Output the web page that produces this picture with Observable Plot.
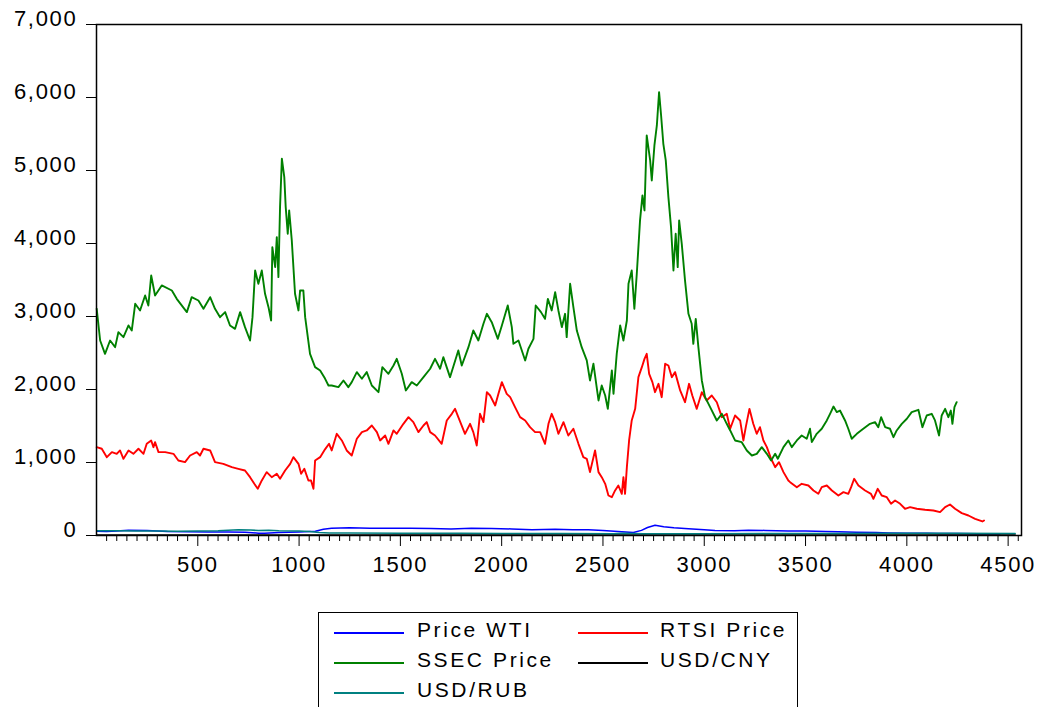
<!DOCTYPE html>
<html>
<head>
<meta charset="utf-8">
<script src="https://cdn.jsdelivr.net/npm/d3@7"></script>
<script src="https://cdn.jsdelivr.net/npm/@observablehq/plot@0.6"></script>
<style>
  html, body { margin: 0; padding: 0; background: #fff; }
  #wrap { position: relative; width: 1038px; height: 707px; overflow: hidden; font-family: "Liberation Sans", Arial, sans-serif; }
  #chart svg text { letter-spacing: 1.7px; }
  #legend { position: absolute; left: 318px; top: 612px; width: 480px; height: 130px; border: 1px solid #000; box-sizing: border-box; }
  .sw { position: absolute; width: 70px; height: 0; border-top: 2px solid; }
  .lb { position: absolute; font-size: 21px; line-height: 21px; letter-spacing: 2.6px; white-space: nowrap; color: #000; }
</style>
</head>
<body>
<div id="wrap">
  <div id="chart"></div>
  <div id="legend"></div>
</div>
<script>
const seriesNames = ["Price WTI", "RTSI Price", "SSEC Price", "USD/CNY", "USD/RUB"];
const seriesColors = ["#0000ff", "#ff0000", "#008000", "#000000", "#008080"];

const ssec = [[1,3106],[18,2671],[42,2489],[67,2671],[92,2580],[108,2785],[133,2717],[158,2877],[174,2808],[191,3174],[215,3082],[240,3288],[256,3151],[270,3562],[289,3288],[322,3425],[372,3356],[396,3242],[446,3060],[470,3265],[503,3219],[528,3106],[561,3265],[585,3106],[610,2991],[635,3060],[659,2877],[684,2831],[709,3060],[733,2854],[758,2671],[770,2991],[783,3630],[799,3448],[816,3630],[832,3311],[849,3128],[862,2945],[868,3950],[882,3676],[890,4087],[898,3539],[906,4498],[915,5161],[927,4909],[934,4498],[944,4133],[951,4453],[964,4042],[980,3311],[997,3083],[1005,3357],[1021,3357],[1030,2991],[1054,2489],[1079,2306],[1104,2261],[1128,2150],[1145,2055],[1161,2055],[1194,2032],[1219,2124],[1243,2032],[1260,2101],[1285,2238],[1310,2147],[1334,2238],[1359,2055],[1392,1963],[1411,2306],[1441,2215],[1466,2329],[1482,2420],[1507,2215],[1527,1987],[1556,2101],[1581,2055],[1614,2169],[1647,2284],[1671,2420],[1696,2284],[1712,2443],[1745,2169],[1786,2535],[1803,2329],[1836,2580],[1860,2808],[1885,2671],[1910,2900],[1927,3037],[1951,2922],[1981,2694],[2001,2877],[2030,3151],[2050,2854],[2058,2626],[2083,2671],[2116,2398],[2132,2558],[2157,2694],[2168,3151],[2194,3060],[2214,2968],[2228,3242],[2247,3083],[2264,3333],[2280,3083],[2297,2854],[2313,3037],[2321,2717],[2338,3448],[2354,3128],[2371,2808],[2395,2580],[2420,2398],[2436,2124],[2453,2352],[2478,1850],[2494,2055],[2511,1918],[2524,1735],[2544,2261],[2552,1941],[2568,2489],[2585,2877],[2601,2671],[2618,2945],[2626,3448],[2642,3630],[2655,3106],[2667,3585],[2683,4316],[2695,4658],[2705,4453],[2716,5480],[2733,5138],[2741,4864],[2754,5343],[2766,5617],[2777,6074],[2787,5754],[2798,5366],[2810,5138],[2823,4635],[2836,4224],[2848,3630],[2859,4133],[2869,3676],[2876,4316],[2889,3996],[2905,3494],[2922,3037],[2938,2900],[2946,2626],[2958,2968],[2971,2580],[2988,2124],[3004,1895],[3029,1758],[3062,1576],[3087,1667],[3111,1530],[3128,1439],[3152,1302],[3185,1279],[3210,1165],[3235,1096],[3259,1119],[3284,1210],[3309,1119],[3330,1028],[3350,1119],[3363,1051],[3391,1210],[3415,1302],[3432,1210],[3457,1302],[3481,1370],[3506,1325],[3522,1462],[3531,1279],[3555,1393],[3580,1462],[3605,1576],[3621,1667],[3638,1767],[3654,1690],[3670,1712],[3695,1576],[3711,1462],[3728,1325],[3753,1393],[3785,1462],[3818,1530],[3843,1553],[3859,1484],[3873,1621],[3893,1484],[3917,1462],[3934,1347],[3950,1439],[3975,1530],[4000,1599],[4024,1690],[4057,1722],[4077,1484],[4098,1644],[4123,1667],[4139,1576],[4159,1370],[4172,1644],[4189,1735],[4205,1621],[4217,1712],[4225,1530],[4235,1758],[4246,1826]];

const rtsi = [[1,1210],[26,1188],[51,1073],[76,1142],[100,1119],[116,1165],[133,1051],[158,1165],[182,1119],[207,1188],[232,1119],[248,1256],[270,1302],[281,1210],[289,1279],[306,1142],[339,1142],[380,1119],[404,1028],[437,1005],[462,1096],[495,1142],[511,1096],[528,1188],[561,1165],[585,1005],[626,982],[668,936],[700,913],[733,891],[758,799],[779,708],[796,640],[816,754],[840,868],[865,799],[890,845],[906,777],[931,891],[956,982],[972,1073],[997,982],[1010,845],[1026,913],[1046,754],[1059,754],[1071,640],[1079,1028],[1104,1073],[1128,1180],[1148,1256],[1161,1165],[1186,1393],[1211,1302],[1235,1165],[1260,1096],[1285,1325],[1310,1416],[1334,1439],[1359,1507],[1384,1416],[1400,1302],[1425,1370],[1441,1256],[1466,1439],[1482,1393],[1515,1530],[1540,1621],[1564,1553],[1589,1416],[1614,1507],[1630,1553],[1647,1416],[1671,1370],[1704,1256],[1729,1576],[1754,1667],[1770,1735],[1786,1621],[1819,1393],[1844,1530],[1860,1416],[1877,1233],[1893,1667],[1910,1553],[1927,1963],[1943,1918],[1968,1781],[1984,1941],[2001,2101],[2025,1941],[2042,1895],[2066,1758],[2091,1621],[2116,1576],[2140,1484],[2165,1416],[2190,1416],[2214,1256],[2231,1530],[2247,1667],[2264,1553],[2280,1393],[2305,1553],[2329,1370],[2354,1462],[2379,1256],[2403,1073],[2420,1051],[2436,868],[2461,1165],[2478,868],[2494,799],[2511,708],[2527,548],[2544,525],[2560,617],[2576,685],[2593,571],[2601,799],[2609,571],[2618,936],[2629,1302],[2642,1576],[2659,1735],[2675,2169],[2692,2306],[2705,2420],[2716,2489],[2728,2215],[2744,2101],[2757,1963],[2774,2078],[2790,1895],[2807,2352],[2823,2329],[2840,2169],[2856,2238],[2881,1987],[2905,1826],[2925,2078],[2941,1918],[2963,1735],[2988,1963],[3012,1850],[3037,1918],[3062,1826],[3087,1621],[3111,1667],[3128,1462],[3152,1644],[3177,1576],[3193,1302],[3205,1484],[3223,1735],[3242,1530],[3259,1393],[3275,1484],[3292,1302],[3309,1210],[3330,1051],[3350,936],[3369,1005],[3391,868],[3415,754],[3424,731],[3457,662],[3481,708],[3514,685],[3539,617],[3563,571],[3580,662],[3605,685],[3630,617],[3662,548],[3687,594],[3711,571],[3725,662],[3740,777],[3761,685],[3794,617],[3823,571],[3835,503],[3856,640],[3876,548],[3901,525],[3922,434],[3942,480],[3967,434],[3991,366],[4016,388],[4049,366],[4090,352],[4131,343],[4164,320],[4189,388],[4213,425],[4238,366],[4271,306],[4304,274],[4337,229],[4373,192],[4381,206]];

const wti = [[1,58],[50,55],[100,62],[158,72],[250,68],[350,55],[450,50],[550,48],[650,47],[733,45],[800,32],[830,30],[900,40],[1000,48],[1080,58],[1120,85],[1160,100],[1250,105],[1350,98],[1450,100],[1550,100],[1650,95],[1750,90],[1850,100],[1950,95],[2050,90],[2150,80],[2264,86],[2350,80],[2428,78],[2500,70],[2593,50],[2650,40],[2690,70],[2720,110],[2757,140],[2800,120],[2850,105],[2922,92],[3000,80],[3053,68],[3150,65],[3218,72],[3300,70],[3415,62],[3500,60],[3600,55],[3662,50],[3750,45],[3850,40],[3909,35],[4000,32],[4100,30],[4156,28],[4250,27],[4350,25],[4460,25]];

const usdrub = [[1,65],[100,64],[200,62],[300,60],[400,58],[500,62],[600,65],[700,78],[760,75],[800,68],[850,72],[900,65],[1000,60],[1050,55],[1100,40],[1150,35],[1250,33],[1500,31],[1800,30],[2000,29],[2300,28],[2550,25],[2600,30],[2700,24],[3000,25],[3300,28],[3600,29],[3900,31],[4200,30],[4535,28]];

const usdcny = [[1,6.9],[500,6.7],[1000,6.3],[1300,6.1],[1500,6.2],[2000,6.5],[2500,6.8],[2800,7.2],[3000,7.6],[3200,8.0],[3400,8.28],[4535,8.28]];

const yTicks = [0, 1000, 2000, 3000, 4000, 5000, 6000, 7000];
const xMajorTicks = [500, 1000, 1500, 2000, 2500, 3000, 3500, 4000, 4500];
const xMinorTicks = d3.range(50, 4566, 50).filter(v => v % 500 !== 0);

// ---- Build table ----
const seriesData = [wti, rtsi, ssec, usdcny, usdrub];
const rows = seriesData.flatMap((s, i) => s.map(([x, y]) => ({x, y, name: seriesNames[i]})));

const chart = Plot.plot({
  width: 1038,
  height: 600,
  marginLeft: 96,
  marginRight: 17,
  marginTop: 24,
  marginBottom: 65,
  style: {fontFamily: "'Liberation Sans', Arial, sans-serif", fontSize: "22px", background: "white", color: "black", overflow: "visible"},
  x: {domain: [0, 4566], label: null},
  y: {domain: [0, 7000], label: null},
  color: {domain: seriesNames, range: seriesColors},
  marks: [
    Plot.line(rows.filter(d => d.name !== "SSEC Price" && d.name !== "RTSI Price"), {x: "x", y: "y", z: "name", stroke: "name", strokeWidth: 1.5}),
    Plot.line(rows.filter(d => d.name === "RTSI Price"), {x: "x", y: "y", stroke: "name", strokeWidth: 1.9}),
    Plot.line(rows.filter(d => d.name === "SSEC Price"), {x: "x", y: "y", stroke: "name", strokeWidth: 1.9}),
    Plot.frame({stroke: "black", strokeWidth: 1.5}),
    Plot.axisY({ticks: yTicks, tickFormat: () => "", tickSize: 10}),
    Plot.axisY({ticks: yTicks, tickFormat: d3.format(","), tickSize: 0, tickPadding: 19, dy: -6, fontSize: 22}),
    Plot.axisX({ticks: xMajorTicks, tickFormat: d => String(d), tickSize: 11, tickPadding: 10, fontSize: 22}),
    Plot.axisX({ticks: xMinorTicks, tickFormat: () => "", tickSize: 6})
  ]
});
document.getElementById("chart").appendChild(chart);

// ---- Legend ----
const legend = document.getElementById("legend");
const legendPos = [
  {line: [15, 19], text: [98, 6]},
  {line: [259, 19], text: [341, 6]},
  {line: [15, 49], text: [98, 36]},
  {line: [259, 49], text: [341, 36]},
  {line: [15, 79], text: [98, 66]}
];
seriesNames.forEach((n, i) => {
  const p = legendPos[i];
  const sw = document.createElement("div");
  sw.className = "sw";
  sw.style.left = p.line[0] + "px";
  sw.style.top = p.line[1] + "px";
  sw.style.borderTopColor = seriesColors[i];
  legend.appendChild(sw);
  const lb = document.createElement("div");
  lb.className = "lb";
  lb.style.left = p.text[0] + "px";
  lb.style.top = p.text[1] + "px";
  lb.textContent = n;
  legend.appendChild(lb);
});
</script>
</body>
</html>
